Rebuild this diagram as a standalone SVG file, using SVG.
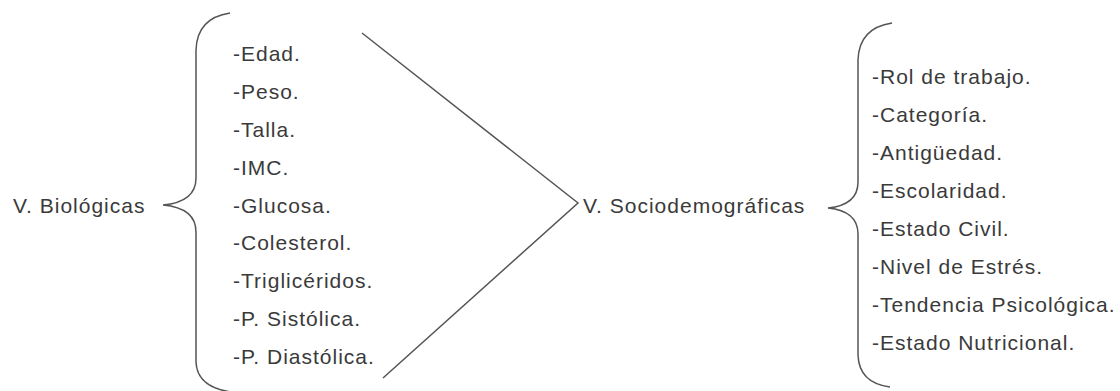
<svg xmlns="http://www.w3.org/2000/svg" width="1120" height="391" viewBox="0 0 1120 391">
<style>
text{font-family:"Liberation Sans",Arial,sans-serif;font-size:21px;fill:#3a3a3a;letter-spacing:1px}
.br{fill:none;stroke:#555;stroke-width:1.5}
</style>
<rect width="1120" height="391" fill="#fff"/>
<g id="bio">
<text x="13" y="213">V. Biológicas</text>
<path class="br" d="M230,13 Q197,18 196,50 L196,178 Q196,202 163,205 Q196,208 196,232 L196,362 Q197,387 231,392"/>
<text x="233" y="61">-Edad.</text>
<text x="233" y="99">-Peso.</text>
<text x="233" y="137">-Talla.</text>
<text x="233" y="175">-IMC.</text>
<text x="233" y="213">-Glucosa.</text>
<text x="233" y="250">-Colesterol.</text>
<text x="233" y="288">-Triglicéridos.</text>
<text x="233" y="326">-P. Sistólica.</text>
<text x="233" y="364">-P. Diastólica.</text>
</g>
<g id="connectors">
<polyline class="br" points="362,33 578,203 383,378"/>
</g>
<g id="socio">
<text x="583" y="213">V. Sociodemográficas</text>
<path class="br" d="M892,23 Q859,28 858,60 L858,182 Q858,205 828,208 Q858,211 858,234 L858,355 Q859,383 890,387"/>
<text x="872" y="84">-Rol de trabajo.</text>
<text x="872" y="122">-Categoría.</text>
<text x="872" y="160">-Antigüedad.</text>
<text x="872" y="198">-Escolaridad.</text>
<text x="872" y="236">-Estado Civil.</text>
<text x="872" y="274">-Nivel de Estrés.</text>
<text x="872" y="312">-Tendencia Psicológica.</text>
<text x="872" y="350">-Estado Nutricional.</text>
</g>
</svg>
